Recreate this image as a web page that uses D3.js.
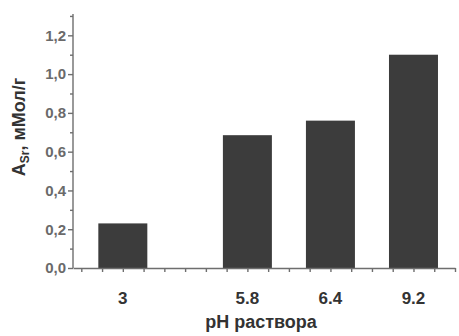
<!DOCTYPE html>
<html>
<head>
<meta charset="utf-8">
<script src="https://cdn.jsdelivr.net/npm/d3@7"></script>
<style>
  body { margin: 0; background: #fff; }
  svg { display: block; font-family: 'Liberation Sans', Arial, sans-serif; }
  .axis path, .axis line { stroke: #6e6e6e; stroke-width: 1.4; }
</style>
</head>
<body>
<div id="chart"></div>
<script>
// data
const categories = ['3', '5.8', '6.4', '9.2'];
const positions = [1, 2.5, 3.5, 4.5];
const values = [0.23, 0.685, 0.76, 1.1];
const yMajor = [0, 0.2, 0.4, 0.6, 0.8, 1.0, 1.2];
const yMinor = [0.1, 0.3, 0.5, 0.7, 0.9, 1.1, 1.3];
const xMinor = [0.5, 0.75, 1, 1.25, 1.5, 1.75, 2, 2.25, 2.5, 2.75, 3, 3.25, 3.5, 3.75, 4, 4.25, 4.5, 4.75, 5];

const width = 459;
const height = 336;
const margin = { top: 14, right: 4, bottom: 68, left: 73 };

const svg = d3.select('#chart').append('svg')
  .attr('width', width)
  .attr('height', height);

const xScale = d3.scaleLinear().domain([0.4, 5.0]).range([margin.left, width - margin.right]);
const yScale = d3.scaleLinear().domain([0, 1.31]).range([height - margin.bottom, margin.top]);
const barW = xScale(0.59) - xScale(0);

// bars
svg.selectAll('.bar')
  .data(values)
  .enter().append('rect')
  .attr('class', 'bar')
  .attr('x', (d, i) => xScale(positions[i]) - barW / 2)
  .attr('y', d => yScale(d))
  .attr('width', barW)
  .attr('height', d => yScale(0) - yScale(d))
  .attr('fill', '#3c3c3c');

// x axis: minor ticks only
svg.append('g')
  .attr('class', 'axis')
  .attr('transform', 'translate(0,' + yScale(0) + ')')
  .call(d3.axisBottom(xScale).tickValues(xMinor).tickSize(4).tickSizeOuter(0).tickFormat(''));

// x labels at bars
svg.selectAll('.xlab')
  .data(categories)
  .enter().append('text')
  .attr('class', 'xlab')
  .attr('x', (d, i) => xScale(positions[i]))
  .attr('y', 304)
  .attr('text-anchor', 'middle')
  .attr('font-size', 17)
  .attr('font-weight', 'bold')
  .attr('fill', '#333')
  .text(d => d);

// y axis
const yAxis = svg.append('g')
  .attr('class', 'axis')
  .attr('transform', 'translate(' + margin.left + ',0)')
  .call(d3.axisLeft(yScale).tickValues(yMajor).tickSize(5).tickSizeOuter(0)
    .tickFormat(d => d3.format('.1f')(d).replace('.', ',')));
yAxis.selectAll('text')
  .attr('font-size', 15)
  .attr('font-weight', 'bold')
  .attr('fill', '#6a6a6a')
  .attr('x', -7);
yAxis.select('.domain').attr('d', 'M0,' + yScale(0) + 'V' + margin.top);

svg.append('g')
  .attr('class', 'axis')
  .attr('transform', 'translate(' + margin.left + ',0)')
  .call(d3.axisLeft(yScale).tickValues(yMinor).tickSize(3).tickFormat(''))
  .select('.domain').remove();

// axis titles
svg.append('text')
  .attr('x', 261)
  .attr('y', 328)
  .attr('text-anchor', 'middle')
  .attr('font-size', 18)
  .attr('font-weight', 'bold')
  .attr('fill', '#333')
  .text('pH раствора');

const yTitle = svg.append('text')
  .attr('transform', 'translate(25,127) rotate(-90)')
  .attr('text-anchor', 'middle')
  .attr('font-size', 18)
  .attr('font-weight', 'bold')
  .attr('fill', '#333');
yTitle.append('tspan').text('A');
yTitle.append('tspan').attr('font-size', 12).attr('dy', 4).text('Sr');
yTitle.append('tspan').attr('dy', -4).text(', мМол/г');
</script>
</body>
</html>
